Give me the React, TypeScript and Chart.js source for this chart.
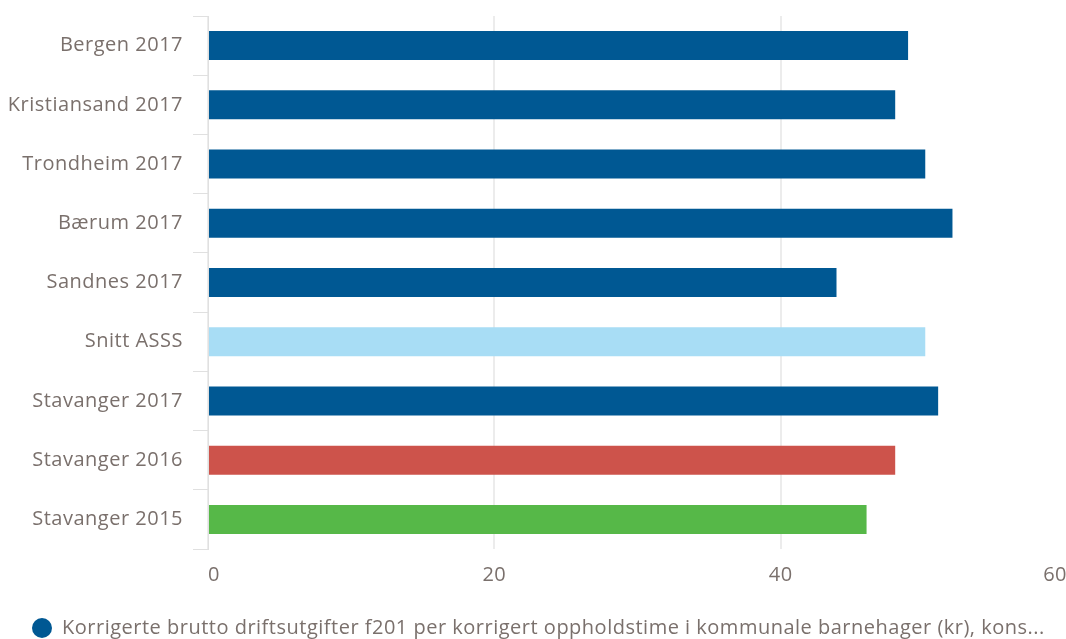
import React, { useEffect, useRef } from "react";
import { Chart, registerables } from "chart.js";

Chart.register(...registerables);

const categories = [
  "Bergen 2017",
  "Kristiansand 2017",
  "Trondheim 2017",
  "Bærum 2017",
  "Sandnes 2017",
  "Snitt ASSS",
  "Stavanger 2017",
  "Stavanger 2016",
  "Stavanger 2015",
];

const values = [48.9, 48.0, 50.1, 52.0, 43.9, 50.1, 51.0, 48.0, 46.0];

const barColors = [
  "#005893",
  "#005893",
  "#005893",
  "#005893",
  "#005893",
  "#a8ddf5",
  "#005893",
  "#cd534b",
  "#56b848",
];

const seriesLabel =
  "Korrigerte brutto driftsutgifter f201 per korrigert oppholdstime i kommunale barnehager (kr), kons...";

const xTicks = [0, 20, 40, 60];

const TEXT = "#7a706c";
const FONT = "'Open Sans', sans-serif";
const CANVAS_W = 1087;
const CANVAS_H = 654;

// Slightly looser tracking for all canvas text (measured and drawn).
const spacingPlugin = {
  id: "textSpacing",
  beforeUpdate(chart: any) {
    chart.ctx.letterSpacing = "0.5px";
  },
  beforeLayout(chart: any) {
    chart.ctx.letterSpacing = "0.5px";
  },
  beforeDraw(chart: any) {
    chart.ctx.letterSpacing = "0.5px";
  },
};

export default function App() {
  const canvasRef = useRef<HTMLCanvasElement | null>(null);

  useEffect(() => {
    const canvas = canvasRef.current;
    if (!canvas) return;
    const chart = new Chart(canvas, {
      type: "bar",
      data: {
        labels: categories,
        datasets: [
          {
            label: seriesLabel,
            data: values,
            backgroundColor: barColors,
            borderWidth: 0,
            categoryPercentage: 1,
            barPercentage: 0.49,
          },
        ],
      },
      options: {
        indexAxis: "y",
        responsive: false,
        animation: false,
        layout: { padding: { top: 16, left: 15, right: 20, bottom: 0 } },
        plugins: {
          tooltip: { enabled: false },
          legend: {
            position: "bottom",
            align: "start",
            labels: {
              usePointStyle: true,
              pointStyle: "circle",
              pointStyleWidth: 20,
              boxHeight: 14,
              padding: 17,
              color: TEXT,
              font: { family: FONT, size: 20 },
            },
          },
        },
        scales: {
          x: {
            min: 0,
            max: 60,
            afterBuildTicks: (scale: any) => {
              scale.ticks = xTicks.map((v) => ({ value: v }));
            },
            border: { display: false },
            grid: {
              color: "#ececec",
              lineWidth: 2,
              drawTicks: false,
            },
            ticks: {
              align: "inner",
              padding: 14,
              color: TEXT,
              font: { family: FONT, size: 20 },
            },
          },
          y: {
            afterFit: (scale: any) => {
              scale.width = 193;
              // let long category names run past the axis box's left edge
              scale._computeLabelArea = () => undefined;
            },
            border: { display: true, color: "#e0e0e0", width: 1 },
            grid: {
              drawOnChartArea: false,
              color: "#e0e0e0",
              tickLength: 15,
            },
            ticks: {
              padding: 10,
              color: TEXT,
              font: { family: FONT, size: 20 },
            },
          },
        },
      },
      plugins: [spacingPlugin],
    });
    return () => chart.destroy();
  }, []);

  return (
    <div style={{ position: "fixed", left: 0, top: 0, right: 0, bottom: 0, overflow: "hidden", background: "#fff" }}>
      <div style={{ position: "absolute", left: 0, top: -6 }}>
        <canvas ref={canvasRef} width={CANVAS_W} height={CANVAS_H} style={{ display: "block" }} />
      </div>
    </div>
  );
}
